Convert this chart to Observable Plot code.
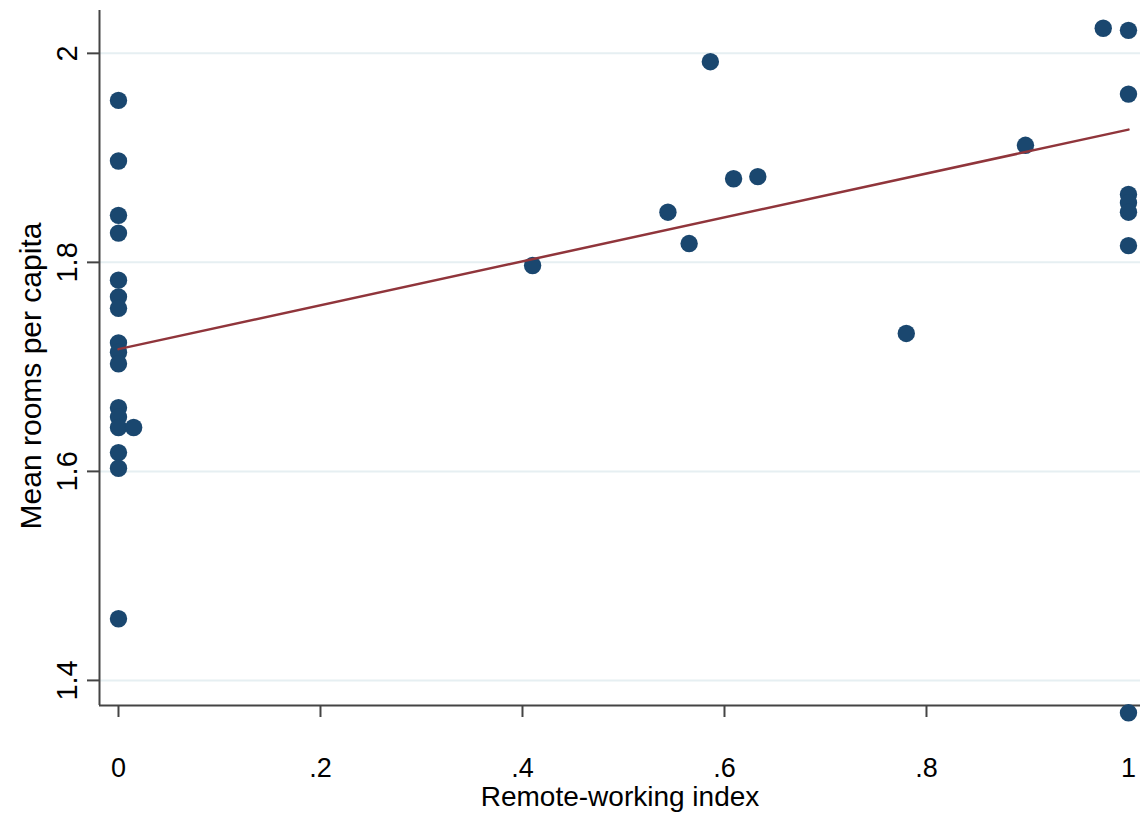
<!DOCTYPE html>
<html><head><meta charset="utf-8">
<script src="https://cdn.jsdelivr.net/npm/d3@7"></script>
<script src="https://cdn.jsdelivr.net/npm/@observablehq/plot@0.6"></script>
<style>body{margin:0;background:#fff} svg{display:block}</style>
</head><body><div id="chart"></div>
<script>
// Data
const remoteIndex = [
  0,0,0,0,0,0,0,0,0,0,0,0,0,0,0,0,
  0.015, 0.41, 0.544, 0.565, 0.586, 0.609, 0.633, 0.780, 0.898, 0.975,
  1,1,1,1,1,1,1
];
const roomsPerCapita = [
  1.955,1.897,1.845,1.828,1.783,1.767,1.756,1.723,1.714,1.703,1.661,1.652,1.642,1.618,1.603,1.459,
  1.642, 1.797, 1.848, 1.818, 1.992, 1.880, 1.882, 1.732, 1.912, 2.024,
  2.022, 1.961, 1.865, 1.857, 1.848, 1.816, 1.369
];
// Fitted line
const fitX = [0, 1];
const fitY = [1.717, 1.927];

const xTicks = [0, 0.2, 0.4, 0.6, 0.8, 1];
const yTicks = [1.4, 1.6, 1.8, 2];
const xDomain = [-0.0188, 1.0119];
const yDomain = [1.376, 2.041];

const points = remoteIndex.map((x, i) => ({x, y: roomsPerCapita[i]}));
const fit = fitX.map((x, i) => ({x, y: fitY[i]}));
const fmt = d => (d === 0 || d === 1 || d === 2) ? String(d) : String(+d.toFixed(1)).replace(/^0\./, ".");

const axisColor = "#444";
const chart = Plot.plot({
  width: 1140,
  height: 813,
  marginLeft: 99,
  marginRight: 0,
  marginTop: 10,
  marginBottom: 108,
  style: {fontFamily: "'Liberation Sans', Arial, sans-serif", fontSize: "28px", background: "white", color: "black", overflow: "visible"},
  x: {domain: xDomain},
  y: {domain: yDomain},
  marks: [
    Plot.gridY(yTicks, {stroke: "#e6eff2", strokeOpacity: 1, strokeWidth: 2}),
    Plot.ruleX([xDomain[0]], {stroke: axisColor, strokeWidth: 2}),
    Plot.ruleY([yDomain[0]], {stroke: axisColor, strokeWidth: 2}),
    Plot.axisX({ticks: xTicks, tickFormat: fmt, tickSize: 12, tickPadding: 40, fontSize: 27, stroke: axisColor, strokeWidth: 2, label: null}),
    Plot.axisY({ticks: yTicks, tickFormat: fmt, tickSize: 12, tickPadding: 11, tickRotate: -90, textAnchor: "middle", lineAnchor: "bottom", fontSize: 29, stroke: axisColor, strokeWidth: 2, label: null}),
    Plot.text(["Remote-working index"], {frameAnchor: "bottom", dy: 100, textAnchor: "middle", lineAnchor: "bottom", fontSize: 28, fill: "black"}),
    Plot.text(["Mean rooms per capita"], {frameAnchor: "left", dx: -59, dy: 18, rotate: -90, textAnchor: "middle", lineAnchor: "bottom", fontSize: 30, fill: "black"}),
    Plot.dot(points, {x: "x", y: "y", r: 8.7, fill: "#1a476f"}),
    Plot.line(fit, {x: "x", y: "y", stroke: "#90353b", strokeWidth: 2.5})
  ]
});
document.getElementById("chart").appendChild(chart);
</script>
</body></html>
